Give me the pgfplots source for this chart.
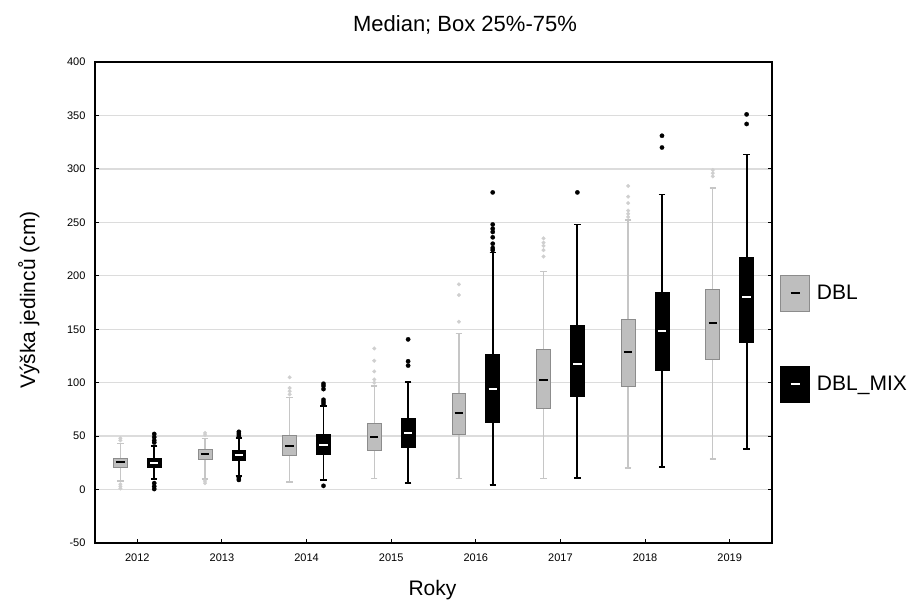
\documentclass[border=0pt]{standalone}
\usepackage{fontspec}
\setmainfont{Liberation Sans}
\usepackage{pgfplots}
\pgfplotsset{compat=1.18}
\usepgfplotslibrary{statistics}
\definecolor{boxgray}{HTML}{BEBEBE}
\definecolor{edgegray}{HTML}{8C8C8C}
\definecolor{whiskgray}{HTML}{C6C6C6}
\definecolor{outgray}{HTML}{CFCFCF}
\definecolor{gridgray}{HTML}{DCDCDC}
\pgfplotsset{
  dbl/.style={draw=edgegray, fill=boxgray, line width=0.8pt, forget plot,
    mark=*, mark size=1.9pt, mark options={draw=outgray, fill=outgray, line width=0.2pt},
    boxplot/every whisker/.style={draw=whiskgray, line width=1.4pt},
    boxplot/every median/.style={draw=black, line width=2pt}},
  mix/.style={draw=black, fill=black, line width=0.8pt, forget plot,
    mark=*, mark size=2.2pt, mark options={draw=black, fill=black, line width=0.2pt},
    boxplot/every whisker/.style={draw=black, line width=1.8pt},
    boxplot/every median/.style={draw=white, line width=2pt}},
}
\newcommand{\bx}[8]{%
  \addplot[#1, boxplot prepared={draw position=#2, lower whisker=#3, lower quartile=#4,
    median=#5, upper quartile=#6, upper whisker=#7, box extend=0.165, whisker extend=0.075}]
    table[row sep=\\, y index=0]{v\\ #8};}
\begin{document}
\begin{tikzpicture}[x=1pt,y=1pt]
\useasboundingbox (0pt,0pt) rectangle (917pt,601pt);
\begin{axis}[
  at={(95pt,58pt)}, anchor=south west,
  width=677pt, height=481pt, scale only axis,
  xmin=2011.5, xmax=2019.5, ymin=-50, ymax=400,
  xtick={2012,2013,2014,2015,2016,2017,2018,2019},
  ytick={-50,0,50,100,150,200,250,300,350,400},
  xtick pos=left, tick align=inside,
  ymajorgrids, grid style={gridgray, line width=1.4pt},
  axis line style={black, line width=1.3pt},
  major tick style={black, line width=1.1pt},
  major tick length=4pt,
  xticklabel style={font=\fontsize{11}{13}\selectfont, yshift=-7pt},
  yticklabel style={font=\fontsize{11}{13}\selectfont, xshift=-6pt},
  /pgf/number format/1000 sep={},
  /pgf/number format/assume math mode=true,
  boxplot/draw direction=y,
  boxplot/draw/median/.code={\draw[/pgfplots/boxplot/every median/.try]
     (boxplot box cs:\pgfplotsboxplotvalue{median},0.2) --
     (boxplot box cs:\pgfplotsboxplotvalue{median},0.8);},
  legend style={draw=none, fill=none, at={(1.0118,0.558)}, anchor=north west,
     inner sep=0pt, font=\fontsize{21}{25}\selectfont, row sep=54pt,
     nodes={inner sep=0pt}},
  legend cell align=left,
]
\addlegendimage{legend image code/.code={
   \draw[fill=boxgray, draw=edgegray, line width=0.8pt] (0pt,-18pt) rectangle (29pt,18pt);
   \draw[black, line width=1.6pt] (10pt,0pt) -- (19pt,0pt);}}
\addlegendentry{\hspace{7pt}DBL}
\addlegendimage{legend image code/.code={
   \draw[fill=black, draw=black] (0pt,-18pt) rectangle (29pt,18pt);
   \draw[white, line width=1.6pt] (10pt,0pt) -- (19pt,0pt);}}
\addlegendentry{\hspace{7pt}DBL\_MIX}

% DBL (gray)
\bx{dbl}{2011.8}{8}{21}{26}{29.6}{43}{46\\ 48\\ 5\\ 3\\ 1\\}
\bx{dbl}{2012.8}{10}{27.8}{32.8}{37.2}{48}{51\\ 53\\ 8\\ 6\\}
\bx{dbl}{2013.8}{7}{31.6}{40.9}{50.6}{86}{89\\ 92\\ 95\\ 105\\}
\bx{dbl}{2014.8}{10.6}{37}{48.7}{61.8}{97}{100\\ 103\\ 110.5\\ 120.5\\ 132\\}
\bx{dbl}{2015.8}{10.6}{51.2}{71.5}{89.6}{146}{157\\ 182\\ 192\\}
\bx{dbl}{2016.8}{10.6}{75.6}{102.4}{131}{204}{218\\ 224\\ 228\\ 231\\ 235\\}
\bx{dbl}{2017.8}{20.3}{96.8}{128.3}{159}{252}{255\\ 258\\ 261\\ 268\\ 274\\ 284\\}
\bx{dbl}{2018.8}{28.4}{121.5}{155.5}{187}{282}{293\\ 296\\ 299\\}
% DBL_MIX (black)
\bx{mix}{2012.2}{10}{20.3}{25}{29.3}{40.6}{44\\ 46\\ 49\\ 52\\ 6\\ 3\\ 0.5\\}
\bx{mix}{2013.2}{13}{27.2}{32.5}{36.5}{48}{50\\ 52\\ 54\\ 11\\ 9\\}
\bx{mix}{2014.2}{9}{33}{42}{51.5}{78.5}{80\\ 82\\ 84\\ 94\\ 97\\ 99\\ 3.5\\}
\bx{mix}{2015.2}{6}{39.3}{52.5}{66.8}{100.5}{116\\ 120\\ 140.5\\}
\bx{mix}{2016.2}{4.4}{62.4}{93.7}{126.8}{221.7}{224\\ 226\\ 230\\ 236\\ 241\\ 244\\ 248\\ 278\\}
\bx{mix}{2017.2}{10.6}{86.8}{117.4}{153.4}{248}{278\\}
\bx{mix}{2018.2}{21}{111.5}{148.3}{184.5}{276}{320\\ 331\\}
\bx{mix}{2019.2}{38}{137.4}{180}{217.6}{313.5}{342\\ 351\\}
\end{axis}
\node[anchor=base, font=\fontsize{22}{26}\selectfont] at (465pt,569pt) {Median; Box 25\%-75\%};
\node[anchor=base, font=\fontsize{21}{25}\selectfont] at (432.5pt,5pt) {Roky};
\node[anchor=base, rotate=90, font=\fontsize{21}{25}\selectfont] at (35pt,301pt) {Výška jedinců (cm)};
\end{tikzpicture}
\end{document}
